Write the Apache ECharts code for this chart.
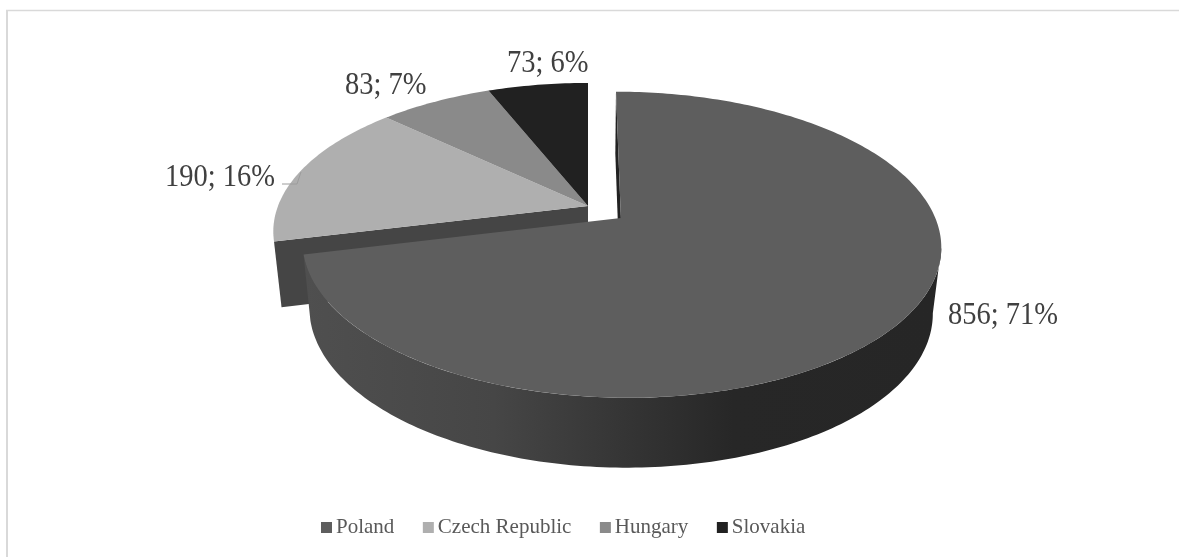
<!DOCTYPE html>
<html lang="en">
<head>
<meta charset="utf-8">
<title>Pie</title>
<style>
  html, body { margin: 0; padding: 0; background: #fff; }
  #main { width: 1179px; height: 557px; }
</style>
<script src="https://cdn.jsdelivr.net/npm/echarts@6/dist/echarts.min.js"></script>
</head>
<body>
<div id="main"></div>
<script>
var countries = ['Poland', 'Czech Republic', 'Hungary', 'Slovakia'];
var values = [856, 190, 83, 73];

var faceColors = ['#5e5e5e', '#afafaf', '#8a8a8a', '#212121'];
var explode = [0.133, 0, 0, 0];
// left edge of each label, vertical middle
var labelX = [948, 165, 345, 507];
var labelY = [316, 178, 86, 64];

// tilted disc, seen in perspective: u = right, v = away from viewer
var X0 = 588, Y0 = 206, B = 310, A = 144.2, P = 0.172;
// lower rim of the disc
var LOW_SX = 0.976, LOW_SY = 1.0256, LOW_DY = 65;
var SERIF = '"Liberation Serif", "Times New Roman", serif';

var total = values.reduce(function (a, b) { return a + b; }, 0);

function project(u, v, lower) {
    var w = 1 + P * v;
    var x = B * u / w;
    var y = -A * v / w;
    if (lower) {
        x = x * LOW_SX;
        y = y * LOW_SY + LOW_DY;
    }
    return [X0 + x, Y0 + y];
}

function rim(a0, a1, du, dv, lower) {
    var pts = [];
    var n = Math.max(2, Math.ceil((a1 - a0) / 1));
    for (var i = 0; i <= n; i++) {
        var t = (a0 + (a1 - a0) * i / n) * Math.PI / 180;
        pts.push(project(du + Math.sin(t), dv + Math.cos(t), lower));
    }
    return pts;
}

function poly(points, fill, z2) {
    return { type: 'polygon', z2: z2, shape: { points: points }, style: { fill: fill }, silent: true };
}

// angle where the rim reaches furthest right, the side's silhouette starts there
function rightmostAngle(a0, a1, du, dv) {
    var best = a0, bestX = -Infinity;
    for (var a = a0; a <= a1; a += 0.5) {
        var t = a * Math.PI / 180;
        var x = project(du + Math.sin(t), dv + Math.cos(t), false)[0];
        if (x > bestX) { bestX = x; best = a; }
    }
    return best;
}

function renderSlice(params, api) {
    var idx = params.seriesIndex;
    var value = api.value(0);
    var before = 0;
    for (var i = 0; i < idx; i++) before += values[i];
    var a0 = before / total * 360;
    var a1 = (before + value) / total * 360;
    var mid = (a0 + a1) / 2 * Math.PI / 180;
    var du = explode[idx] * Math.sin(mid);
    var dv = explode[idx] * Math.cos(mid);
    var children = [];

    if (idx === 0) {
        // round side with its light falloff, and the cut face next to the gap
        var wallFill = new echarts.graphic.LinearGradient(305, 0, 935, 0, [
            { offset: 0, color: '#4f4f4f' },
            { offset: 0.3, color: '#464646' },
            { offset: 0.53, color: '#333333' },
            { offset: 0.68, color: '#272727' },
            { offset: 1, color: '#262626' }
        ], true);
        var aR = rightmostAngle(a0, a1, du, dv);
        var top = rim(aR, a1, du, dv, false);
        var low = rim(aR, a1, du, dv, true).reverse();
        children.push(poly(top.concat(low), wallFill, 1));
        children.push(poly([
            project(du, dv, false),
            project(du + Math.sin(a0 * Math.PI / 180), dv + Math.cos(a0 * Math.PI / 180), false),
            project(du + Math.sin(a0 * Math.PI / 180), dv + Math.cos(a0 * Math.PI / 180), true),
            project(du, dv, true)
        ], '#222222', 1));
    } else if (idx === 1) {
        var s = Math.sin(a0 * Math.PI / 180), c = Math.cos(a0 * Math.PI / 180);
        children.push(poly([
            project(0, 0, false), project(s, c, false), project(s, c, true), project(0, 0, true)
        ], '#454545', 1));
    }

    var face = [project(du, dv, false)].concat(rim(a0, a1, du, dv, false));
    children.push(poly(face, faceColors[idx], 2));

    if (idx === 1) {
        children.push({
            type: 'polyline', z2: 3, silent: true,
            shape: { points: [[282, 184], [297, 184], [301, 172]] },
            style: { stroke: '#9c9c9c', lineWidth: 1, fill: null }
        });
    }

    children.push({
        type: 'text', z2: 4, silent: true,
        scaleY: 1.08,
        originX: labelX[idx],
        originY: labelY[idx],
        style: {
            x: labelX[idx], y: labelY[idx],
            text: value + '; ' + Math.round(value / total * 100) + '%',
            font: '28.5px ' + SERIF,
            fill: '#404040',
            verticalAlign: 'middle'
        }
    });
    return { type: 'group', children: children };
}

var myChart = echarts.init(document.getElementById('main'));
var option = {
    animation: false,
    backgroundColor: '#fff',
    legend: {
        left: 316,
        top: 512,
        icon: 'rect',
        itemWidth: 11,
        itemHeight: 11,
        itemGap: 28.5,
        selectedMode: false,
        textStyle: { fontFamily: SERIF, fontSize: 21, color: '#595959', padding: [0, 0, 0, -1] },
        data: countries
    },
    graphic: [
        { type: 'line', silent: true, shape: { x1: 6, y1: 10.5, x2: 1179, y2: 10.5 }, style: { stroke: '#d9d9d9', lineWidth: 1.5 } },
        { type: 'line', silent: true, shape: { x1: 7, y1: 10, x2: 7, y2: 557 }, style: { stroke: '#d9d9d9', lineWidth: 2 } }
    ],
    series: countries.map(function (name, i) {
        return {
            type: 'custom',
            name: name,
            coordinateSystem: 'none',
            z: i === 0 ? 3 : 2,
            itemStyle: { color: faceColors[i] },
            renderItem: renderSlice,
            data: [[values[i]]]
        };
    })
};
myChart.setOption(option);
</script>
</body>
</html>
